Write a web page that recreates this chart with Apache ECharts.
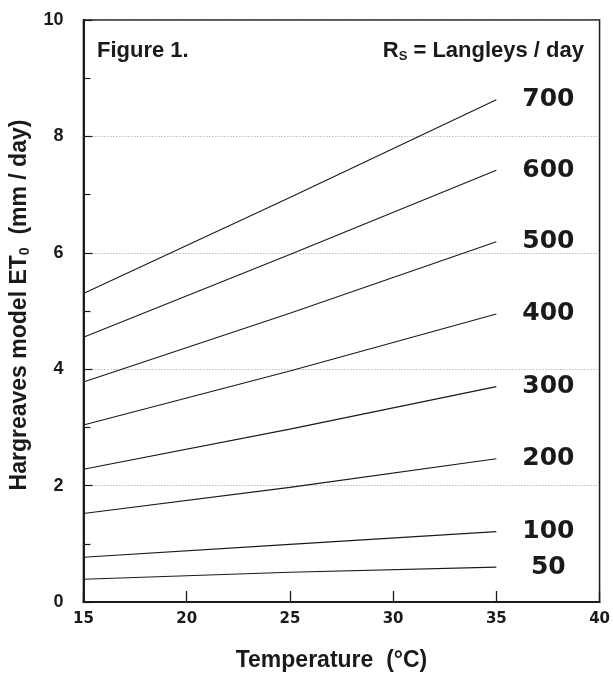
<!DOCTYPE html>
<html>
<head>
<meta charset="utf-8">
<script src="https://cdn.jsdelivr.net/npm/echarts@6/dist/echarts.min.js"></script>
<style>html,body{margin:0;padding:0;background:#fff;}#c{width:613px;height:677px;}</style>
</head>
<body>
<div id="c"></div>
<script>
// Temperature (°C) at which values were read
const temps = [15, 25, 35];
// Hargreaves model ET0 (mm/day) for each solar radiation level (Langleys/day)
const rs700 = [5.30, 6.95, 8.63];
const rs600 = [4.55, 5.97, 7.42];
const rs500 = [3.78, 4.96, 6.19];
const rs400 = [3.04, 3.97, 4.95];
const rs300 = [2.28, 2.97, 3.70];
const rs200 = [1.52, 1.97, 2.46];
const rs100 = [0.77, 0.99, 1.21];
const rs50  = [0.39, 0.51, 0.60];
const seriesNames = ['700', '600', '500', '400', '300', '200', '100', '50'];
const seriesValues = [rs700, rs600, rs500, rs400, rs300, rs200, rs100, rs50];
const xTicks = [15, 20, 25, 30, 35, 40];
const yTicks = [0, 2, 4, 6, 8, 10];

const chart = echarts.init(document.getElementById('c'), null, {renderer: 'canvas'});
const ink = '#1a1a1a';

const series = seriesNames.map((name, i) => ({
  name: name,
  type: 'line',
  data: temps.map((t, j) => [t, seriesValues[i][j]]),
  showSymbol: false,
  symbol: 'none',
  silent: true,
  lineStyle: {color: ink, width: 1.1},
  endLabel: {
    show: true,
    formatter: p => p.seriesName,
    fontFamily: 'DejaVu Sans',
    fontWeight: 'bold',
    fontSize: 25,
    color: ink,
    align: 'center',
    distance: 52
  }
}));

chart.setOption({
  animation: false,
  backgroundColor: '#fff',
  title: [
    {
      text: 'Figure 1.',
      left: 92, top: 35,
      textStyle: {fontFamily: 'Liberation Sans', fontWeight: 'bold', fontSize: 22, color: ink}
    },
    {
      text: '{r|R}{s|S}{r| = Langleys / day}',
      right: 24, top: 34,
      textStyle: {
        rich: {
          r: {fontFamily: 'Liberation Sans', fontWeight: 'bold', fontSize: 22, color: ink, lineHeight: 24},
          s: {fontFamily: 'Liberation Sans', fontWeight: 'bold', fontSize: 13, color: ink, lineHeight: 13, verticalAlign: 'bottom'}
        }
      }
    }
  ],
  grid: {
    left: 82, right: 11, top: 20, bottom: 75,
    show: true, borderColor: ink, borderWidth: 1.5, backgroundColor: 'transparent'
  },
  xAxis: {
    type: 'value',
    min: xTicks[0], max: xTicks[xTicks.length - 1], interval: 5,
    name: 'Temperature  (°C)',
    nameLocation: 'middle',
    nameGap: 47,
    nameTextStyle: {fontFamily: 'Liberation Sans', fontWeight: 'bold', fontSize: 23, color: ink, padding: [0, 20, 0, 0]},
    axisLine: {show: true, lineStyle: {color: ink, width: 2}},
    axisTick: {show: true, inside: true, length: 11, lineStyle: {color: ink, width: 1.3}},
    axisLabel: {
      margin: 10,
      fontFamily: 'DejaVu Sans', fontWeight: 'bold', fontSize: 15, color: ink,
      formatter: v => (xTicks.indexOf(v) >= 0 ? String(v) : '')
    },
    splitLine: {show: false}
  },
  yAxis: {
    type: 'value',
    min: yTicks[0], max: yTicks[yTicks.length - 1], interval: 2,
    name: '{a|Hargreaves model ET}{b|0}{a|  (mm / day)}',
    nameLocation: 'middle',
    nameGap: 43,
    nameRotate: 90,
    nameTextStyle: {
      padding: [0, 0, 0, 12],
      rich: {
        a: {fontFamily: 'Liberation Sans', fontWeight: 'bold', fontSize: 23, color: ink, lineHeight: 26},
        b: {fontFamily: 'Liberation Sans', fontWeight: 'bold', fontSize: 14, color: ink, lineHeight: 14, verticalAlign: 'bottom'}
      }
    },
    axisLine: {show: true, lineStyle: {color: ink, width: 2}},
    axisTick: {show: true, inside: true, length: 9, lineStyle: {color: ink, width: 1.2}},
    minorTick: {show: true, splitNumber: 2, length: 7, lineStyle: {color: ink, width: 1.2}},
    axisLabel: {
      margin: 20,
      fontFamily: 'Liberation Sans', fontWeight: 'bold', fontSize: 18, color: ink,
      formatter: v => (yTicks.indexOf(v) >= 0 ? String(v) : '')
    },
    splitLine: {show: true, lineStyle: {color: '#9a9a9a', width: 1, type: [1, 2]}},
    minorSplitLine: {show: false}
  },
  series: series
});
</script>
</body>
</html>
